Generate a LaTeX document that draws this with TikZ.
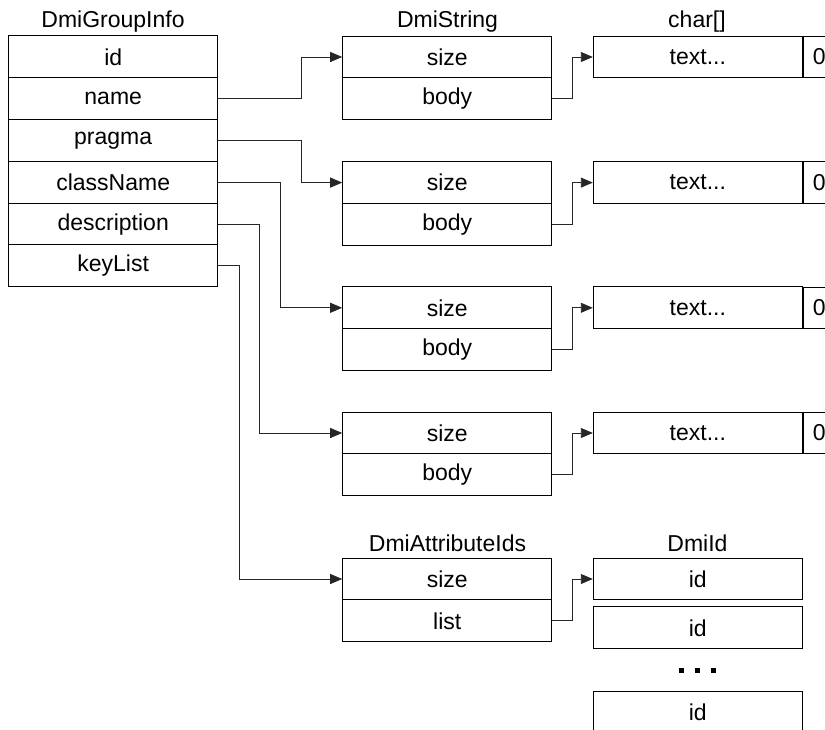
\documentclass[tikz,border=0pt]{standalone}
\usepackage{fontspec}
\setmainfont{Liberation Sans}
\usetikzlibrary{arrows.meta}
\tikzset{
  cell/.style={draw=black, line width=1pt, minimum height=41.8pt, inner sep=0pt, font=\fontsize{23}{27}\selectfont},
  wide/.style={cell, minimum width=209pt},
  zero/.style={cell, minimum width=32pt, minimum height=41.5pt},
  ttl/.style={inner sep=0pt, font=\fontsize{23}{27}\selectfont},
  conn/.style={draw=black!85, line width=0.9pt, -{Triangle[length=12pt,width=10pt]}},
  dot/.style={fill=black, minimum size=5pt, inner sep=0pt}
}
\begin{document}
\begin{tikzpicture}[x=1pt,y=-1pt]
\useasboundingbox (0,0) rectangle (825,730);
\clip (0,0) rectangle (825,730);
% DmiGroupInfo
\node[ttl] (tgi) at (113,22) {DmiGroupInfo};
\node[wide] (gi1) at (113.2,56.9) {id};
\node[wide] (gi2) at (113.2,98.7) {name};
\node[wide] (gi3) at (113.2,140.5) {pragma};
\node[wide] (gi4) at (113.2,182.3) {className};
\node[wide] (gi5) at (113.2,224.1) {description};
\node[wide] (gi6) at (113.2,265.9) {keyList};
% DmiString blocks
\node[ttl] (tds) at (447.5,22) {DmiString};
\node[wide] (ds1a) at (447.2,57) {size};
\node[wide] (ds1b) at (447.2,98.8) {body};
\node[wide] (ds2a) at (447.2,182.6) {size};
\node[wide] (ds2b) at (447.2,224.4) {body};
\node[wide] (ds3a) at (447.2,307.8) {size};
\node[wide] (ds3b) at (447.2,349.6) {body};
\node[wide] (ds4a) at (447.2,433) {size};
\node[wide] (ds4b) at (447.2,474.8) {body};
% char[] arrays
\node[ttl] (tch) at (697,22) {char[]};
\node[wide] (ch1) at (697.8,57) {text...};
\node[zero, anchor=west] (z1) at (ch1.east) {0};
\node[wide] (ch2) at (697.8,182.6) {text...};
\node[zero, anchor=west] (z2) at (ch2.east) {0};
\node[wide] (ch3) at (697.8,307.8) {text...};
\node[zero, anchor=west] (z3) at (ch3.east) {0};
\node[wide] (ch4) at (697.8,433) {text...};
\node[zero, anchor=west] (z4) at (ch4.east) {0};
% DmiAttributeIds
\node[ttl] (tai) at (447.5,543) {DmiAttributeIds};
\node[wide] (ai1) at (447.2,579) {size};
\node[wide] (ai2) at (447.2,620.8) {list};
% DmiId
\node[ttl] (tid) at (697.5,543) {DmiId};
\node[wide] (id1) at (697.8,579) {id};
\node[wide] (id2) at (697.8,627.8) {id};
\node[dot] (d1) at (681.7,670) {};
\node[dot] (d2) at (697.7,670) {};
\node[dot] (d3) at (713.7,670) {};
\node[wide] (id3) at (697.8,712) {id};
% connectors
\draw[conn] (gi2.east) -- ++(83,0) |- (ds1a.west);
\draw[conn] (gi3.east) -- ++(83,0) |- (ds2a.west);
\draw[conn] (gi4.east) -- ++(62,0) |- (ds3a.west);
\draw[conn] (gi5.east) -- ++(41,0) |- (ds4a.west);
\draw[conn] (gi6.east) -- ++(21,0) |- (ai1.west);
\draw[conn] (ds1b.east) -- ++(20.6,0) |- (ch1.west);
\draw[conn] (ds2b.east) -- ++(20.6,0) |- (ch2.west);
\draw[conn] (ds3b.east) -- ++(20.6,0) |- (ch3.west);
\draw[conn] (ds4b.east) -- ++(20.6,0) |- (ch4.west);
\draw[conn] (ai2.east) -- ++(20.6,0) |- (id1.west);
\end{tikzpicture}
\end{document}
